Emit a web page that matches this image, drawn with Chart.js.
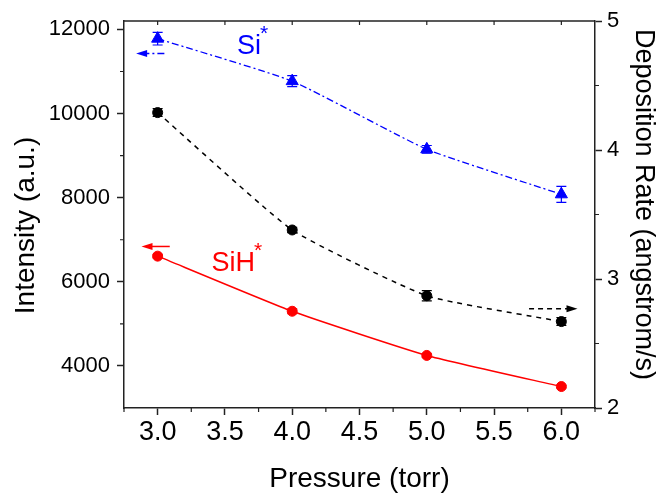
<!DOCTYPE html>
<html>
<head>
<meta charset="utf-8">
<script src="https://cdn.jsdelivr.net/npm/chart.js@4.4.1/dist/chart.umd.min.js"></script>
<style>
  html, body { margin: 0; padding: 0; background: #fff; }
  #wrap { width: 669px; height: 497px; }
</style>
</head>
<body>
<div id="wrap"><canvas id="chart" width="669" height="497"></canvas></div>
<script>
// values
const pressure = [3.0, 4.0, 5.0, 6.0];
const siStar = [11780, 10770, 9150, 8080];
const siStarErr = [150, 130, 90, 190];
const depRate = [4.29, 3.38, 2.87, 2.67];
const depRateErr = [0.03, 0.02, 0.04, 0.03];
const sihStar = [6610, 5300, 4250, 3510];
const sihStarErr = [40, 60, 40, 30];

const xTicks = [3.0, 3.5, 4.0, 4.5, 5.0, 5.5, 6.0];
const xMinor = [2.75, 3.25, 3.75, 4.25, 4.75, 5.25, 5.75, 6.25];
const leftTicks = [4000, 6000, 8000, 10000, 12000];
const leftMinor = [5000, 7000, 9000, 11000];
const rightTicks = [2, 3, 4, 5];
const rightMinor = [2.5, 3.5, 4.5];

// annotations, in data units
const arrows = [
    { from: 3.05, to: 2.84, y: 11430, axis: 'y', color: '#0000ff', dash: [7, 3, 2, 3] },
    { from: 3.09, to: 2.88, y: 6840, axis: 'y', color: '#ff0000', dash: [] },
    { from: 5.76, to: 6.12, y: 2.77, axis: 'y1', color: '#000000', dash: [5, 4] }
];
const labels = [
    { text: 'Si', x: 3.59, y: 11412, axis: 'y', color: '#0000ff' },
    { text: 'SiH', x: 3.40, y: 6250, axis: 'y', color: '#ff0000' }
];

const FAMILY = '"Liberation Sans", Arial, sans-serif';
const AXIS = '#222';

function pts(vals) {
    return pressure.map((p, i) => ({ x: p, y: vals[i] }));
}

const extras = {
    id: 'extras',
    beforeDatasetsDraw(chart) {
        const { ctx, scales } = chart;
        chart.data.datasets.forEach(ds => {
            const ys = scales[ds.yAxisID];
            ctx.save();
            ctx.strokeStyle = ds.borderColor;
            ctx.lineWidth = 1.2;
            ds.errs.forEach((e, j) => {
                const px = scales.x.getPixelForValue(pressure[j]);
                const v = ds.data[j].y;
                const top = ys.getPixelForValue(v + e);
                const bot = ys.getPixelForValue(v - e);
                ctx.beginPath();
                ctx.moveTo(px, top); ctx.lineTo(px, bot);
                ctx.moveTo(px - 5, top); ctx.lineTo(px + 5, top);
                ctx.moveTo(px - 5, bot); ctx.lineTo(px + 5, bot);
                ctx.stroke();
            });
            ctx.restore();
        });
    },
    afterDraw(chart) {
        const { ctx, chartArea: a, scales } = chart;
        const x = scales.x;
        ctx.save();
        // top frame
        ctx.strokeStyle = AXIS;
        ctx.lineWidth = 1.5;
        ctx.beginPath();
        ctx.moveTo(a.left, a.top); ctx.lineTo(a.right, a.top);
        ctx.stroke();
        // minor ticks
        ctx.lineWidth = 1.2;
        ctx.beginPath();
        xMinor.forEach(v => {
            const px = x.getPixelForValue(v);
            ctx.moveTo(px, a.bottom); ctx.lineTo(px, a.bottom + 4);
        });
        xTicks.forEach(v => {
            const px = x.getPixelForValue(v);
            ctx.moveTo(px, a.top); ctx.lineTo(px, a.top + 4);
        });
        leftMinor.forEach(v => {
            const py = scales.y.getPixelForValue(v);
            ctx.moveTo(a.left, py); ctx.lineTo(a.left - 4, py);
        });
        rightMinor.forEach(v => {
            const py = scales.y1.getPixelForValue(v);
            ctx.moveTo(a.right, py); ctx.lineTo(a.right + 4, py);
        });
        ctx.stroke();

        // arrows
        arrows.forEach(ar => {
            const ys = scales[ar.axis];
            const x0 = x.getPixelForValue(ar.from);
            const x1 = x.getPixelForValue(ar.to);
            const py = ys.getPixelForValue(ar.y);
            const dir = Math.sign(x1 - x0);
            ctx.strokeStyle = ar.color;
            ctx.fillStyle = ar.color;
            ctx.lineWidth = 1.5;
            ctx.setLineDash(ar.dash);
            ctx.beginPath();
            ctx.moveTo(x0, py); ctx.lineTo(x1 - dir * 8, py);
            ctx.stroke();
            ctx.setLineDash([]);
            ctx.beginPath();
            ctx.moveTo(x1, py);
            ctx.lineTo(x1 - dir * 11, py - 3.5);
            ctx.lineTo(x1 - dir * 11, py + 3.5);
            ctx.closePath();
            ctx.fill();
        });

        // species labels with superscript asterisk
        labels.forEach(lb => {
            const px = x.getPixelForValue(lb.x);
            const py = scales[lb.axis].getPixelForValue(lb.y);
            ctx.fillStyle = lb.color;
            ctx.textBaseline = 'alphabetic';
            ctx.textAlign = 'left';
            ctx.font = '27px ' + FAMILY;
            ctx.fillText(lb.text, px, py);
            const w = ctx.measureText(lb.text).width;
            ctx.font = '21px ' + FAMILY;
            ctx.fillText('*', px + w - 1, py - 14);
        });

        // axis titles (Origin places the vertical ones slightly off-centre)
        ctx.fillStyle = '#000';
        ctx.font = '28px ' + FAMILY;
        ctx.textAlign = 'center';
        ctx.textBaseline = 'alphabetic';
        ctx.fillText('Pressure (torr)', (a.left + a.right) / 2, 487);

        ctx.save();
        ctx.translate(34, (a.top + a.bottom) / 2 + 11);
        ctx.rotate(-Math.PI / 2);
        ctx.fillText('Intensity (a.u.)', 0, 0);
        ctx.restore();

        ctx.save();
        ctx.translate(636, (a.top + a.bottom) / 2 - 10);
        ctx.rotate(Math.PI / 2);
        ctx.font = '27px ' + FAMILY;
        ctx.fillText('Deposition Rate (angstrom/s)', 0, 0);
        ctx.restore();

        ctx.restore();
    }
};

const yTickFont = { family: FAMILY, size: 22 };
const xTickFont = { family: FAMILY, size: 27 };

new Chart(document.getElementById('chart'), {
    type: 'line',
    data: {
        datasets: [
            {
                label: 'Si*',
                data: pts(siStar),
                errs: siStarErr,
                yAxisID: 'y',
                borderColor: '#0000ff',
                backgroundColor: '#0000ff',
                borderWidth: 1.3,
                borderDash: [7, 3, 2, 3],
                pointStyle: 'triangle',
                pointRadius: 7,
                pointBorderWidth: 1,
                tension: 0.15
            },
            {
                label: 'Deposition rate',
                data: pts(depRate),
                errs: depRateErr,
                yAxisID: 'y1',
                borderColor: '#000000',
                backgroundColor: '#000000',
                borderWidth: 1.5,
                borderDash: [5, 5],
                pointRadius: 5,
                pointBorderWidth: 1,
                tension: 0.15
            },
            {
                label: 'SiH*',
                data: pts(sihStar),
                errs: sihStarErr,
                yAxisID: 'y',
                borderColor: '#ff0000',
                backgroundColor: '#ff0000',
                borderWidth: 1.5,
                pointRadius: 5,
                pointBorderWidth: 1,
                tension: 0.15
            }
        ]
    },
    options: {
        responsive: false,
        animation: false,
        devicePixelRatio: 1,
        layout: { padding: { top: 21, left: 0, right: 0, bottom: 0 } },
        plugins: {
            legend: { display: false },
            tooltip: { enabled: false }
        },
        scales: {
            x: {
                type: 'linear',
                min: 2.75,
                max: 6.25,
                afterBuildTicks: s => { s.ticks = xTicks.map(v => ({ value: v })); },
                afterFit: s => { s.height = 89; },
                ticks: {
                    callback: v => Number(v).toFixed(1),
                    font: xTickFont,
                    color: '#000',
                    padding: 1,
                    maxRotation: 0,
                    autoSkip: false
                },
                grid: { drawOnChartArea: false, tickLength: 7, tickColor: AXIS, tickWidth: 1.5 },
                border: { color: AXIS, width: 1.5 }
            },
            y: {
                position: 'left',
                min: 3000,
                max: 12200,
                afterBuildTicks: s => { s.ticks = leftTicks.map(v => ({ value: v })); },
                afterFit: s => { s.width = 124; },
                ticks: { callback: v => String(v), font: yTickFont, color: '#000', padding: 7, autoSkip: false },
                grid: { drawOnChartArea: false, tickLength: 7, tickColor: AXIS, tickWidth: 1.5 },
                border: { color: AXIS, width: 1.5 }
            },
            y1: {
                position: 'right',
                min: 2,
                max: 5,
                afterBuildTicks: s => { s.ticks = rightTicks.map(v => ({ value: v })); },
                afterFit: s => { s.width = 74; },
                ticks: { callback: v => String(v), font: yTickFont, color: '#000', padding: 5, autoSkip: false },
                grid: { drawOnChartArea: false, tickLength: 7, tickColor: AXIS, tickWidth: 1.5 },
                border: { color: AXIS, width: 1.5 }
            }
        }
    },
    plugins: [extras]
});
</script>
</body>
</html>
